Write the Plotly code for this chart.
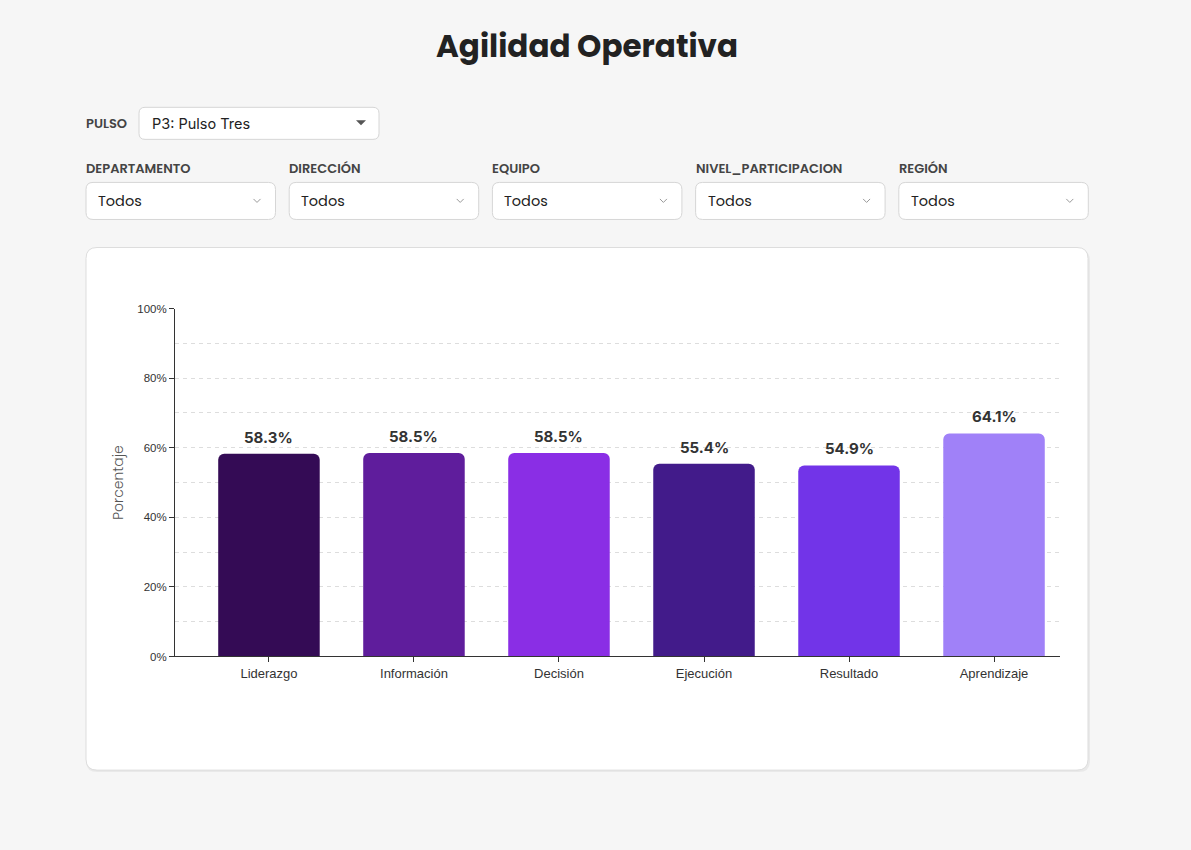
import plotly.graph_objects as go

W, H = 1191, 850

# chart data
categorias = ["Liderazgo", "Información", "Decisión", "Ejecución", "Resultado", "Aprendizaje"]
porcentajes = [58.3, 58.5, 58.5, 55.4, 54.9, 64.1]
colores = ["#340b55", "#5f1d9c", "#8a2ee5", "#421b8a", "#7234e8", "#a081f8"]

# filter bar texts
filtros = ["DEPARTAMENTO", "DIRECCIÓN", "EQUIPO", "NIVEL_PARTICIPACION", "REGIÓN"]
valor_filtro = "Todos"
pulso_valor = "P3: Pulso Tres"

# measured vertical offset/scale of the rendered paper area (found by trial)
Y_OFF, Y_SCALE = 6.8, 0.9847


def px(x):
    return x / W


def py(y):
    return 1 - ((y - Y_OFF) / Y_SCALE) / H


def rrect(x0, y0, x1, y1, r):
    # rounded rectangle path in paper coords, input in pixels
    pts = [
        ("M", [(x0 + r, y0)]), ("L", [(x1 - r, y0)]), ("Q", [(x1, y0), (x1, y0 + r)]),
        ("L", [(x1, y1 - r)]), ("Q", [(x1, y1), (x1 - r, y1)]), ("L", [(x0 + r, y1)]),
        ("Q", [(x0, y1), (x0, y1 - r)]), ("L", [(x0, y0 + r)]), ("Q", [(x0, y0), (x0 + r, y0)]),
    ]
    s = ""
    for cmd, p in pts:
        s += cmd + " " + " ".join(f"{px(a):.5f},{py(b):.5f}" for a, b in p) + " "
    return s + "Z"


fig = go.Figure()

fig.add_trace(go.Bar(
    x=categorias,
    y=porcentajes,
    marker=dict(color=colores, cornerradius=6, line=dict(width=0)),
    width=0.7,
    hoverinfo="skip",
))

shapes = []
annotations = []

# value labels above the bars
for c, v in zip(categorias, porcentajes):
    annotations.append(dict(x=c, y=v, text=f"{v:.1f}%", showarrow=False, yanchor="bottom",
                            yshift=5, xref="x", yref="y",
                            font=dict(family="Inter, Liberation Sans, Arial", size=15,
                                      color="#333333", weight=700)))

# card behind the chart
shapes.append(dict(type="path", path=rrect(86, 250, 1090, 772, 11), xref="paper", yref="paper",
                   fillcolor="rgba(0,0,0,0.05)", line=dict(width=0), layer="below"))
shapes.append(dict(type="path", path=rrect(86, 248, 1088, 770, 11), xref="paper", yref="paper",
                   fillcolor="white", line=dict(color="#dddddd", width=1), layer="below"))

# title
annotations.append(dict(text="Agilidad Operativa", x=px(587), y=py(47), xref="paper", yref="paper",
                        showarrow=False, xanchor="center", yanchor="middle",
                        font=dict(family="Poppins, Lato, sans-serif", size=31, color="#222222", weight=700)))

# pulso selector
annotations.append(dict(text="PULSO", x=px(84), y=py(124), xref="paper", yref="paper",
                        showarrow=False, xanchor="left", yanchor="middle",
                        font=dict(family="Poppins, Lato, sans-serif", size=13, color="#444444", weight=600)))
shapes.append(dict(type="path", path=rrect(139, 108, 379, 140, 6), xref="paper", yref="paper",
                   fillcolor="white", line=dict(color="#d6d6d6", width=1), layer="below"))
annotations.append(dict(text=pulso_valor, x=px(150), y=py(124), xref="paper", yref="paper",
                        showarrow=False, xanchor="left", yanchor="middle",
                        font=dict(family="Inter, Liberation Sans, Arial", size=14.5, color="#222222")))
shapes.append(dict(type="path", xref="paper", yref="paper",
                   path=f"M {px(356)},{py(121)} L {px(366)},{py(121)} L {px(361)},{py(126)} Z",
                   fillcolor="#555555", line=dict(width=0), layer="below"))

# other filters
for i, nombre in enumerate(filtros):
    x0 = 86 + i * 203.2
    annotations.append(dict(text=nombre, x=px(x0 - 2), y=py(169), xref="paper", yref="paper",
                            showarrow=False, xanchor="left", yanchor="middle",
                            font=dict(family="Poppins, Lato, sans-serif", size=13, color="#444444", weight=600)))
    shapes.append(dict(type="path", path=rrect(x0, 183, x0 + 189.5, 220, 7), xref="paper", yref="paper",
                       fillcolor="white", line=dict(color="#d6d6d6", width=1), layer="below"))
    annotations.append(dict(text=valor_filtro, x=px(x0 + 10), y=py(202), xref="paper", yref="paper",
                            showarrow=False, xanchor="left", yanchor="middle",
                            font=dict(family="Poppins, Lato, sans-serif", size=14.5, color="#222222")))
    cx = x0 + 171
    shapes.append(dict(type="path", xref="paper", yref="paper",
                       path=f"M {px(cx - 3.5)},{py(199.5)} L {px(cx)},{py(203)} L {px(cx + 3.5)},{py(199.5)}",
                       line=dict(color="#999999", width=1), layer="below"))

fig.update_layout(
    width=W,
    height=H,
    margin=dict(l=0, r=0, t=0, b=0),
    paper_bgcolor="#f6f6f6",
    plot_bgcolor="rgba(0,0,0,0)",
    font=dict(color="#333333"),
    showlegend=False,
    shapes=shapes,
    annotations=annotations,
    xaxis=dict(
        domain=[px(175), px(1060)],
        range=[-0.648, 5.455],
        showline=True, linecolor="#333333", linewidth=1,
        ticks="outside", ticklen=5, tickcolor="#333333",
        tickfont=dict(family="Liberation Sans, Arial", size=13, color="#333333"),
        showgrid=False, zeroline=False,
        fixedrange=True,
    ),
    yaxis=dict(
        domain=[py(656.5), py(309)],
        range=[0, 100],
        dtick=20,
        ticksuffix="%",
        showline=True, linecolor="#333333", linewidth=1,
        ticks="outside", ticklen=5, tickcolor="#333333",
        tickfont=dict(family="Liberation Sans, Arial", size=11.5, color="#333333"),
        showgrid=True, gridcolor="#dddddd", griddash="4px,4px", gridwidth=1,
        minor=dict(dtick=10, showgrid=True, gridcolor="#dddddd", griddash="4px,4px", ticks=""),
        zeroline=False,
        title=dict(text="Porcentaje", standoff=10,
                   font=dict(family="Poppins, Lato, sans-serif", size=14, color="#555555", weight=300)),
        fixedrange=True,
    ),
)

# keep the page exactly one figure tall (no body margin, no inline gap below the plot)
page_fix = """
document.documentElement.style.margin='0';
document.documentElement.style.overflow='hidden';
document.body.style.margin='0';
document.body.style.overflow='hidden';
var gd = document.querySelector('.plotly-graph-div');
gd.style.display = 'block';
gd.parentElement.style.height = '850px';
gd.parentElement.style.overflow = 'hidden';
document.querySelectorAll('.svg-container').forEach(function(e){ e.style.display = 'block'; });
"""

fig.write_html("out.html", config={"displayModeBar": False}, post_script=page_fix)
